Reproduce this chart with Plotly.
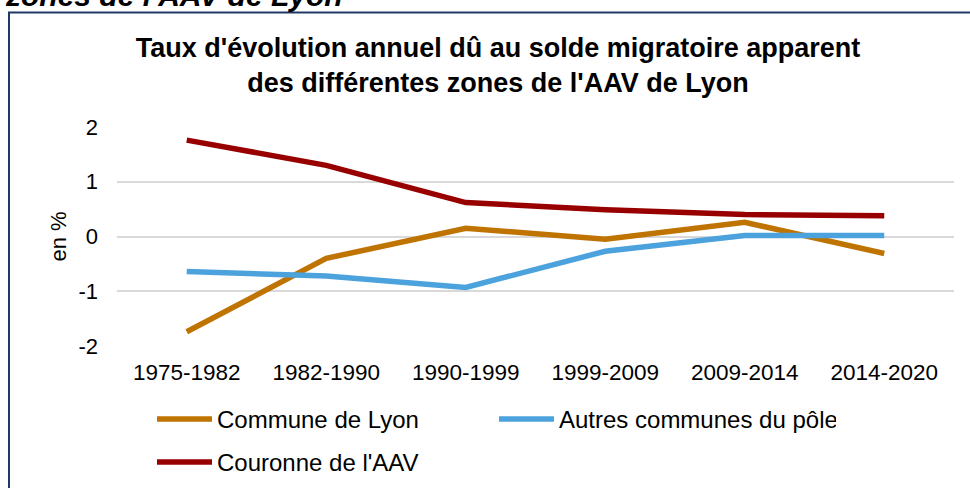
import plotly.graph_objects as go

periodes = ["1975-1982", "1982-1990", "1990-1999", "1999-2009", "2009-2014", "2014-2020"]
lyon = [-1.74, -0.40, 0.15, -0.05, 0.26, -0.31]
autres_pole = [-0.64, -0.72, -0.93, -0.27, 0.02, 0.02]
couronne = [1.76, 1.30, 0.62, 0.49, 0.40, 0.38]
y_ticks = [-2, -1, 0, 1, 2]
y_labels = ["-2", "-1", "0", "1", "2"]

W, H = 970, 488
ml, mr, mt, mb = 117, 16, 127, 142
pw, ph = W - ml - mr, H - mt - mb


def px_x(x):
    return (x - ml) / pw


def px_y(y):
    return (H - mb - y) / ph


fig = go.Figure()
fig.add_trace(go.Scatter(x=periodes, y=lyon, mode="lines", name="Commune de Lyon",
                         line=dict(color="#BF7300", width=5.5), legend="legend"))
fig.add_trace(go.Scatter(x=periodes, y=autres_pole, mode="lines", name="Autres communes du pôle",
                         line=dict(color="#4BA2DD", width=5.5), legend="legend"))
fig.add_trace(go.Scatter(x=periodes, y=couronne, mode="lines", name="Couronne de l'AAV",
                         line=dict(color="#980000", width=5.5), legend="legend2"))

# cadre
fig.add_shape(type="rect", xref="paper", yref="paper",
              x0=px_x(9), x1=px_x(1000), y0=px_y(520), y1=px_y(12.5),
              line=dict(color="#1F3864", width=2), layer="below")

# titre coupé en haut
fig.add_annotation(text="<b><i>zones de l'AAV de Lyon</i></b>", xref="paper", yref="paper",
                   x=px_x(3), y=px_y(14), xanchor="left", yanchor="bottom", showarrow=False,
                   font=dict(size=30, color="black"))

leg = dict(orientation="h", xanchor="left", yanchor="top", font=dict(size=24),
           entrywidth=272, itemwidth=55, bgcolor="rgba(0,0,0,0)")

fig.update_layout(
    width=W, height=H,
    margin=dict(l=ml, r=mr, t=mt, b=mb, autoexpand=False),
    paper_bgcolor="white", plot_bgcolor="white",
    font=dict(family="Liberation Sans, Arial", color="black", size=22),
    title=dict(text="<b>Taux d'évolution annuel dû au solde migratoire apparent<br>des différentes zones de l'AAV de Lyon</b>",
               xref="container", x=498 / W, xanchor="center",
               yref="container", y=1 - 57 / H, yanchor="middle",
               font=dict(size=27, color="black")),
    showlegend=True,
    legend=dict(leg, x=px_x(152), y=px_y(397)),
    legend2=dict(leg, x=px_x(152), y=px_y(440)),
)
fig.update_xaxes(range=[-0.5, 5.5], showgrid=False, showline=False, ticks="",
                 tickfont=dict(size=22.5), ticklabelstandoff=10, automargin=False)
fig.update_yaxes(range=[-2, 2], tickvals=y_ticks, ticktext=y_labels,
                 showgrid=True, gridcolor="#D9D9D9", gridwidth=1.5,
                 zeroline=False, showline=False, ticks="", tickfont=dict(size=22),
                 ticklabelstandoff=18, automargin=False,
                 title=dict(text="en %", font=dict(size=22), standoff=5))

fig.write_html("out.html", config={"displayModeBar": False},
               post_script="document.body.style.margin='0';")
